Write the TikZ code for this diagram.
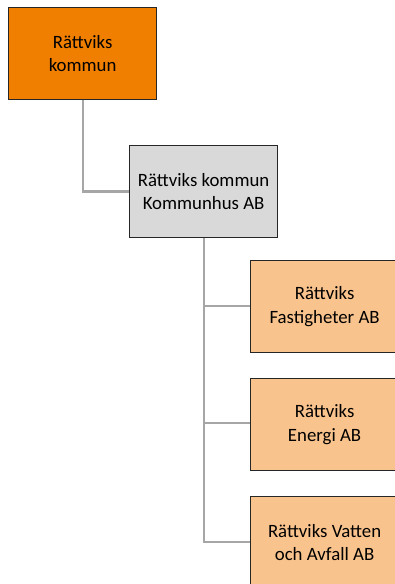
\documentclass[tikz,border=0pt]{standalone}
\usepackage{fontspec}
\setmainfont{Carlito}
\definecolor{dorange}{HTML}{F07F00}
\definecolor{lorange}{HTML}{F9C38D}
\definecolor{lgray}{HTML}{D9D9D9}
\definecolor{linegray}{HTML}{A6A6A6}
\begin{document}
\begin{tikzpicture}[x=1pt,y=-1pt,
  box/.style={draw=black!85,line width=1.2pt,minimum width=148pt,minimum height=92pt,inner sep=0pt,align=center,font=\fontsize{18.8}{23.5}\selectfont,anchor=north west},
  conn/.style={draw=linegray,line width=2.8pt}]
\useasboundingbox (0,0) rectangle (395,584);
\clip (0,0) rectangle (395,584);
\fill[white] (0,0) rectangle (395,584);
\node[box,fill=dorange] (k) at (8,7) {Rättviks\\kommun};
\node[box,fill=lgray] (h) at (129,145) {Rättviks kommun\\Kommunhus AB};
\node[box,fill=lorange] (f) at (250,260) {Rättviks\\Fastigheter AB};
\node[box,fill=lorange] (e) at (250,378) {Rättviks\\Energi AB};
\node[box,fill=lorange] (v) at (250,496) {Rättviks Vatten\\och Avfall AB};
\coordinate (t) at (204,542);
\draw[conn] (k.south -| 83,0) |- (h.west);
\draw[conn] (h.south -| 204,0) -- (t) -- (v.west |- t);
\draw[conn] (204,306) -- (f.west |- 0,306);
\draw[conn] (204,423) -- (e.west |- 0,423);
\end{tikzpicture}
\end{document}
